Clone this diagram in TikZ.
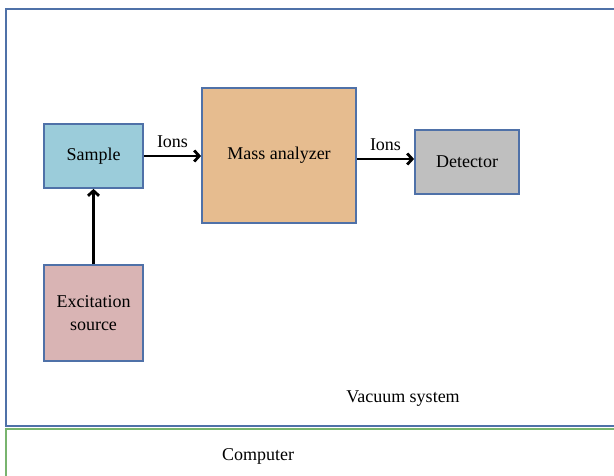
\documentclass[tikz,border=0pt]{standalone}
\usepackage{fontspec}
\setmainfont{Liberation Serif}
\usepackage{xcolor}
\usetikzlibrary{arrows.meta}
\definecolor{frameblue}{RGB}{79,113,168}
\definecolor{framegreen}{RGB}{120,180,110}
\definecolor{samplecol}{RGB}{155,204,218}
\definecolor{masscol}{RGB}{230,188,143}
\definecolor{detcol}{RGB}{191,191,191}
\definecolor{exccol}{RGB}{217,180,180}
\tikzset{
  block/.style={draw=frameblue,line width=1.8pt,align=center,inner sep=0pt},
  flow/.style={-{Straight Barb[length=5pt,width=11pt]},line width=2.8pt,black}
}

\begin{document}
\begin{tikzpicture}[x=1pt,y=-1pt,font=\fontsize{18}{23}\selectfont]
  \useasboundingbox (0,0) rectangle (614,475);
  \clip (0,0) rectangle (614,475);
  % frames
  \draw[frameblue,line width=1.8pt] (6,9) rectangle (630,426);
  \draw[framegreen,line width=1.8pt] (6,429) rectangle (630,490);
  \node (vac) at (403,399) {Vacuum system};
  \node (comp) at (258,456) {Computer};
  % blocks
  \node (sample) [block,fill=samplecol,minimum width=99pt,minimum height=64pt] at (93.5,156) {Sample};
  \node (mass) [block,fill=masscol,minimum width=154pt,minimum height=135pt] at (279,155.5) {Mass analyzer};
  \node (det) [block,fill=detcol,minimum width=104pt,minimum height=64pt] at (467,162) {Detector};
  \node (exc) [block,fill=exccol,minimum width=99pt,minimum height=96pt] at (93.5,313) {Excitation\\source};
  % arrows
  \draw[flow] (exc) -- (sample);
  \draw[flow] (sample) -- node[above=4pt] {Ions} (sample -| mass.west);
  \draw[flow] ([yshift=3pt]det.west -| mass.east) -- node[above=4pt] {Ions} ([yshift=3pt]det.west);
\end{tikzpicture}
\end{document}
